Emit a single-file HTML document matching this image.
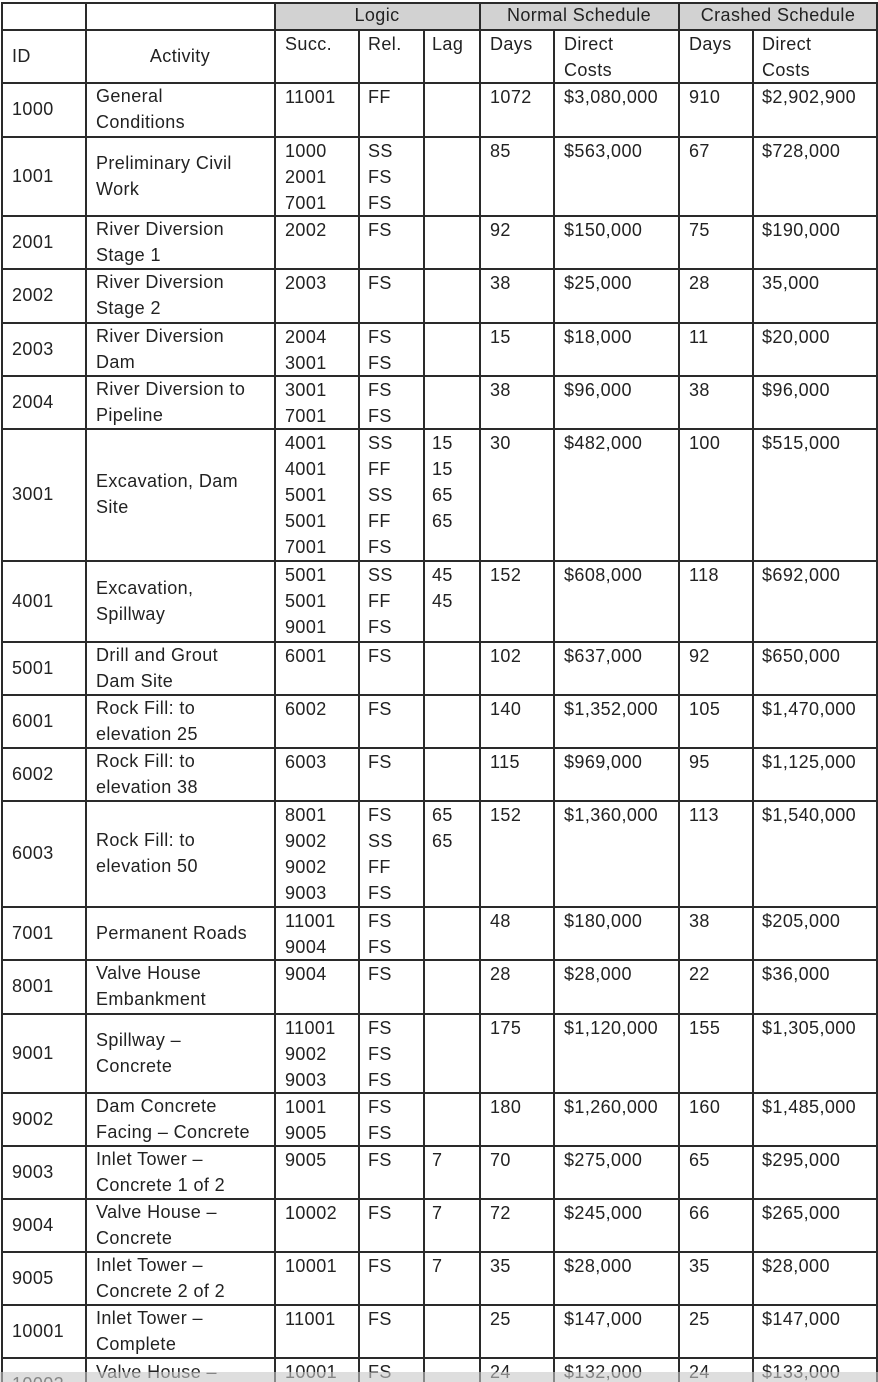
<!DOCTYPE html>
<html><head><meta charset="utf-8"><style>
html,body{margin:0;padding:0;background:#fff;width:878px;height:1382px;overflow:hidden;position:relative;font-family:"Liberation Sans",sans-serif;font-size:18px;letter-spacing:0.4px;color:#222}
.h{position:absolute;left:1px;width:877px;height:2px;background:#2a2a2a}
.v{position:absolute;width:2px;background:#2a2a2a}
.r{position:absolute;left:0;width:878px}
.c{position:absolute;top:2px;line-height:26px;white-space:nowrap}
.m{top:0;bottom:0;display:flex;align-items:center;line-height:26px}
.g{position:absolute;left:275px;top:3px;width:602px;height:26px;background:#d2d2d2}
.band{position:absolute;left:0;top:1372px;width:878px;height:10px;background:rgba(200,200,200,0.6)}
</style></head><body>
<div class="g"></div>
<div class="h" style="top:2px"></div><div class="h" style="top:29px"></div><div class="h" style="top:82px"></div>
<div class="h" style="top:136px"></div><div class="h" style="top:215px"></div><div class="h" style="top:268px"></div>
<div class="h" style="top:322px"></div><div class="h" style="top:375px"></div><div class="h" style="top:428px"></div>
<div class="h" style="top:560px"></div><div class="h" style="top:641px"></div><div class="h" style="top:694px"></div>
<div class="h" style="top:747px"></div><div class="h" style="top:800px"></div><div class="h" style="top:906px"></div>
<div class="h" style="top:959px"></div><div class="h" style="top:1013px"></div><div class="h" style="top:1092px"></div>
<div class="h" style="top:1145px"></div><div class="h" style="top:1198px"></div><div class="h" style="top:1251px"></div>
<div class="h" style="top:1304px"></div><div class="h" style="top:1357px"></div>
<div class="v" style="left:1px;top:2px;height:1380px"></div>
<div class="v" style="left:85px;top:2px;height:1380px"></div>
<div class="v" style="left:274px;top:2px;height:1380px"></div>
<div class="v" style="left:358px;top:29px;height:1353px"></div>
<div class="v" style="left:423px;top:29px;height:1353px"></div>
<div class="v" style="left:479px;top:2px;height:1380px"></div>
<div class="v" style="left:553px;top:29px;height:1353px"></div>
<div class="v" style="left:678px;top:2px;height:1380px"></div>
<div class="v" style="left:752px;top:29px;height:1353px"></div>
<div class="v" style="left:876px;top:2px;height:1380px"></div>

<div class="r" style="top:2px;height:27px">
<div class="c" style="left:275px;width:204px;text-align:center;top:0">Logic</div>
<div class="c" style="left:480px;width:198px;text-align:center;top:0">Normal Schedule</div>
<div class="c" style="left:679px;width:198px;text-align:center;top:0">Crashed Schedule</div>
</div>
<div class="r" style="top:29px;height:53px">
<div class="c m" style="left:12px">ID</div><div class="c m" style="left:86px;width:188px;justify-content:center">Activity</div>
<div class="c" style="left:285px">Succ.</div><div class="c" style="left:368px">Rel.</div><div class="c" style="left:432px">Lag</div>
<div class="c" style="left:490px">Days</div><div class="c" style="left:564px">Direct<br>Costs</div>
<div class="c" style="left:689px">Days</div><div class="c" style="left:762px">Direct<br>Costs</div>
</div>

<div class="r" style="top:82px;height:54px"><div class="c m" style="left:12px">1000</div><div class="c m" style="left:96px">General<br>Conditions</div><div class="c" style="left:285px">11001</div><div class="c" style="left:368px">FF</div><div class="c" style="left:490px">1072</div><div class="c" style="left:564px">$3,080,000</div><div class="c" style="left:689px">910</div><div class="c" style="left:762px">$2,902,900</div></div>

<div class="r" style="top:136px;height:79px"><div class="c m" style="left:12px">1001</div><div class="c m" style="left:96px">Preliminary Civil<br>Work</div><div class="c" style="left:285px">1000<br>2001<br>7001</div><div class="c" style="left:368px">SS<br>FS<br>FS</div><div class="c" style="left:490px">85</div><div class="c" style="left:564px">$563,000</div><div class="c" style="left:689px">67</div><div class="c" style="left:762px">$728,000</div></div>

<div class="r" style="top:215px;height:53px"><div class="c m" style="left:12px">2001</div><div class="c m" style="left:96px">River Diversion<br>Stage 1</div><div class="c" style="left:285px">2002</div><div class="c" style="left:368px">FS</div><div class="c" style="left:490px">92</div><div class="c" style="left:564px">$150,000</div><div class="c" style="left:689px">75</div><div class="c" style="left:762px">$190,000</div></div>

<div class="r" style="top:268px;height:54px"><div class="c m" style="left:12px">2002</div><div class="c m" style="left:96px">River Diversion<br>Stage 2</div><div class="c" style="left:285px">2003</div><div class="c" style="left:368px">FS</div><div class="c" style="left:490px">38</div><div class="c" style="left:564px">$25,000</div><div class="c" style="left:689px">28</div><div class="c" style="left:762px">35,000</div></div>

<div class="r" style="top:322px;height:53px"><div class="c m" style="left:12px">2003</div><div class="c m" style="left:96px">River Diversion<br>Dam</div><div class="c" style="left:285px">2004<br>3001</div><div class="c" style="left:368px">FS<br>FS</div><div class="c" style="left:490px">15</div><div class="c" style="left:564px">$18,000</div><div class="c" style="left:689px">11</div><div class="c" style="left:762px">$20,000</div></div>

<div class="r" style="top:375px;height:53px"><div class="c m" style="left:12px">2004</div><div class="c m" style="left:96px">River Diversion to<br>Pipeline</div><div class="c" style="left:285px">3001<br>7001</div><div class="c" style="left:368px">FS<br>FS</div><div class="c" style="left:490px">38</div><div class="c" style="left:564px">$96,000</div><div class="c" style="left:689px">38</div><div class="c" style="left:762px">$96,000</div></div>

<div class="r" style="top:428px;height:132px"><div class="c m" style="left:12px">3001</div><div class="c m" style="left:96px">Excavation, Dam<br>Site</div><div class="c" style="left:285px">4001<br>4001<br>5001<br>5001<br>7001</div><div class="c" style="left:368px">SS<br>FF<br>SS<br>FF<br>FS</div><div class="c" style="left:432px">15<br>15<br>65<br>65</div><div class="c" style="left:490px">30</div><div class="c" style="left:564px">$482,000</div><div class="c" style="left:689px">100</div><div class="c" style="left:762px">$515,000</div></div>

<div class="r" style="top:560px;height:81px"><div class="c m" style="left:12px">4001</div><div class="c m" style="left:96px">Excavation,<br>Spillway</div><div class="c" style="left:285px">5001<br>5001<br>9001</div><div class="c" style="left:368px">SS<br>FF<br>FS</div><div class="c" style="left:432px">45<br>45</div><div class="c" style="left:490px">152</div><div class="c" style="left:564px">$608,000</div><div class="c" style="left:689px">118</div><div class="c" style="left:762px">$692,000</div></div>

<div class="r" style="top:641px;height:53px"><div class="c m" style="left:12px">5001</div><div class="c m" style="left:96px">Drill and Grout<br>Dam Site</div><div class="c" style="left:285px">6001</div><div class="c" style="left:368px">FS</div><div class="c" style="left:490px">102</div><div class="c" style="left:564px">$637,000</div><div class="c" style="left:689px">92</div><div class="c" style="left:762px">$650,000</div></div>

<div class="r" style="top:694px;height:53px"><div class="c m" style="left:12px">6001</div><div class="c m" style="left:96px">Rock Fill: to<br>elevation 25</div><div class="c" style="left:285px">6002</div><div class="c" style="left:368px">FS</div><div class="c" style="left:490px">140</div><div class="c" style="left:564px">$1,352,000</div><div class="c" style="left:689px">105</div><div class="c" style="left:762px">$1,470,000</div></div>

<div class="r" style="top:747px;height:53px"><div class="c m" style="left:12px">6002</div><div class="c m" style="left:96px">Rock Fill: to<br>elevation 38</div><div class="c" style="left:285px">6003</div><div class="c" style="left:368px">FS</div><div class="c" style="left:490px">115</div><div class="c" style="left:564px">$969,000</div><div class="c" style="left:689px">95</div><div class="c" style="left:762px">$1,125,000</div></div>

<div class="r" style="top:800px;height:106px"><div class="c m" style="left:12px">6003</div><div class="c m" style="left:96px">Rock Fill: to<br>elevation 50</div><div class="c" style="left:285px">8001<br>9002<br>9002<br>9003</div><div class="c" style="left:368px">FS<br>SS<br>FF<br>FS</div><div class="c" style="left:432px">65<br>65</div><div class="c" style="left:490px">152</div><div class="c" style="left:564px">$1,360,000</div><div class="c" style="left:689px">113</div><div class="c" style="left:762px">$1,540,000</div></div>

<div class="r" style="top:906px;height:53px"><div class="c m" style="left:12px">7001</div><div class="c m" style="left:96px">Permanent Roads</div><div class="c" style="left:285px">11001<br>9004</div><div class="c" style="left:368px">FS<br>FS</div><div class="c" style="left:490px">48</div><div class="c" style="left:564px">$180,000</div><div class="c" style="left:689px">38</div><div class="c" style="left:762px">$205,000</div></div>

<div class="r" style="top:959px;height:54px"><div class="c m" style="left:12px">8001</div><div class="c m" style="left:96px">Valve House<br>Embankment</div><div class="c" style="left:285px">9004</div><div class="c" style="left:368px">FS</div><div class="c" style="left:490px">28</div><div class="c" style="left:564px">$28,000</div><div class="c" style="left:689px">22</div><div class="c" style="left:762px">$36,000</div></div>

<div class="r" style="top:1013px;height:79px"><div class="c m" style="left:12px">9001</div><div class="c m" style="left:96px">Spillway –<br>Concrete</div><div class="c" style="left:285px">11001<br>9002<br>9003</div><div class="c" style="left:368px">FS<br>FS<br>FS</div><div class="c" style="left:490px">175</div><div class="c" style="left:564px">$1,120,000</div><div class="c" style="left:689px">155</div><div class="c" style="left:762px">$1,305,000</div></div>

<div class="r" style="top:1092px;height:53px"><div class="c m" style="left:12px">9002</div><div class="c m" style="left:96px">Dam Concrete<br>Facing – Concrete</div><div class="c" style="left:285px">1001<br>9005</div><div class="c" style="left:368px">FS<br>FS</div><div class="c" style="left:490px">180</div><div class="c" style="left:564px">$1,260,000</div><div class="c" style="left:689px">160</div><div class="c" style="left:762px">$1,485,000</div></div>

<div class="r" style="top:1145px;height:53px"><div class="c m" style="left:12px">9003</div><div class="c m" style="left:96px">Inlet Tower –<br>Concrete 1 of 2</div><div class="c" style="left:285px">9005</div><div class="c" style="left:368px">FS</div><div class="c" style="left:432px">7</div><div class="c" style="left:490px">70</div><div class="c" style="left:564px">$275,000</div><div class="c" style="left:689px">65</div><div class="c" style="left:762px">$295,000</div></div>

<div class="r" style="top:1198px;height:53px"><div class="c m" style="left:12px">9004</div><div class="c m" style="left:96px">Valve House –<br>Concrete</div><div class="c" style="left:285px">10002</div><div class="c" style="left:368px">FS</div><div class="c" style="left:432px">7</div><div class="c" style="left:490px">72</div><div class="c" style="left:564px">$245,000</div><div class="c" style="left:689px">66</div><div class="c" style="left:762px">$265,000</div></div>

<div class="r" style="top:1251px;height:53px"><div class="c m" style="left:12px">9005</div><div class="c m" style="left:96px">Inlet Tower –<br>Concrete 2 of 2</div><div class="c" style="left:285px">10001</div><div class="c" style="left:368px">FS</div><div class="c" style="left:432px">7</div><div class="c" style="left:490px">35</div><div class="c" style="left:564px">$28,000</div><div class="c" style="left:689px">35</div><div class="c" style="left:762px">$28,000</div></div>

<div class="r" style="top:1304px;height:53px"><div class="c m" style="left:12px">10001</div><div class="c m" style="left:96px">Inlet Tower –<br>Complete</div><div class="c" style="left:285px">11001</div><div class="c" style="left:368px">FS</div><div class="c" style="left:490px">25</div><div class="c" style="left:564px">$147,000</div><div class="c" style="left:689px">25</div><div class="c" style="left:762px">$147,000</div></div>

<div class="r" style="top:1357px;height:30px"><div class="c" style="left:12px;top:14px">10002</div><div class="c" style="left:96px">Valve House –</div><div class="c" style="left:285px">10001</div><div class="c" style="left:368px">FS</div><div class="c" style="left:490px">24</div><div class="c" style="left:564px">$132,000</div><div class="c" style="left:689px">24</div><div class="c" style="left:762px">$133,000</div></div>

<div class="band"></div>
</body></html>
